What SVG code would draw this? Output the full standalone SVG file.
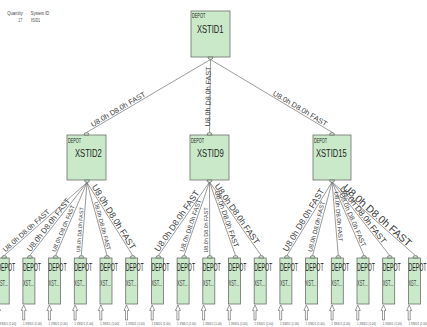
<svg xmlns="http://www.w3.org/2000/svg" width="427" height="327" viewBox="0 0 427 327">
<style>
.bg{fill:#ffffff}
.box{fill:#c9e9c9;stroke:#6e6e6e;stroke-width:0.8}
.edge{stroke:#707070;stroke-width:0.7;fill:none}
.arrow{fill:#ffffff;stroke:#555555;stroke-width:0.6}
text{font-family:"Liberation Sans",Arial,sans-serif}
.hdr{font-size:5.5px;fill:#444444}
.kind{fill:#222222}
.name{fill:#222222}
.xst{font-size:8.4px;fill:#444444}
.src{font-size:3.6px;fill:#555555}
.lbl{fill:#3a3a3a}
</style>
<rect class="bg" x="0" y="0" width="427" height="327"/>

<!-- summary table -->
<g id="summary">
<text class="hdr" x="7.3" y="15" textLength="15.4" lengthAdjust="spacingAndGlyphs">Quantity</text>
<text class="hdr" x="30.7" y="15" textLength="18.6" lengthAdjust="spacingAndGlyphs">System ID</text>
<text class="hdr" x="18.3" y="21.5" textLength="3.7" lengthAdjust="spacingAndGlyphs">17</text>
<text class="hdr" x="30.7" y="21.5" textLength="9.3" lengthAdjust="spacingAndGlyphs">XSID1</text>
</g>

<!-- connectors -->
<g id="connectors">
<path class="edge" d="M210.5 59.5L86.5 132.5M210.5 59.5L209.5 132.5M210.5 59.5L332.5 132.5"/>
<path class="edge" d="M87 182.5L4.2 255.5M87 182.5L29.9 255.5M87 182.5L55.6 255.5M87 182.5L81.3 255.5M87 182.5L107 255.5M87 182.5L132.7 255.5"/>
<path class="edge" d="M209.5 182L158.4 255.5M209.5 182L184.1 255.5M209.5 182L209.8 255.5M209.5 182L235.5 255.5M209.5 182L261.2 255.5"/>
<path class="edge" d="M332 182L286.9 255.5M332 182L312.6 255.5M332 182L338.3 255.5M332 182L364 255.5M332 182L389.7 255.5M332 182L415.4 255.5"/>
<g class="lbl">
<text transform="translate(86.5,132.5) rotate(-30.5)" x="8" y="-1.5" font-size="7.3" textLength="62" lengthAdjust="spacingAndGlyphs">U8.0h D8.0h FAST</text>
<text transform="translate(209.5,132.5) rotate(-89.2)" x="6" y="0.5" font-size="7.1" textLength="60" lengthAdjust="spacingAndGlyphs">U8.0h D8.0h FAST</text>
<text transform="translate(210.5,59.5) rotate(30.9)" x="71" y="-1.5" font-size="7.3" textLength="62" lengthAdjust="spacingAndGlyphs">U8.0h D8.0h FAST</text>

<text transform="translate(4.2,255.5) rotate(-41.6)" x="3" y="-1.5" font-size="7.1" textLength="60" lengthAdjust="spacingAndGlyphs">U8.0h D8.0h FAST</text>
<text transform="translate(29.9,255.5) rotate(-52.2)" x="3" y="-1.5" font-size="7.7" textLength="65" lengthAdjust="spacingAndGlyphs">U8.0h D8.0h FAST</text>
<text transform="translate(55.6,255.5) rotate(-66.9)" x="3" y="-1.5" font-size="5.9" textLength="50" lengthAdjust="spacingAndGlyphs">U8.0h D8.0h FAST</text>
<text transform="translate(81.3,255.5) rotate(-85.6)" x="3" y="-1.5" font-size="5.3" textLength="45" lengthAdjust="spacingAndGlyphs">U8.0h D8.0h FAST</text>
<text transform="translate(87,182.5) rotate(74.8)" x="21" y="-1.5" font-size="5.9" textLength="50" lengthAdjust="spacingAndGlyphs">U8.0h D8.0h FAST</text>
<text transform="translate(87,182.5) rotate(58.1)" x="6" y="-1.5" font-size="8.9" textLength="75" lengthAdjust="spacingAndGlyphs">U8.0h D8.0h FAST</text>

<text transform="translate(158.4,255.5) rotate(-55.4)" x="3" y="-1.5" font-size="8.5" textLength="72" lengthAdjust="spacingAndGlyphs">U8.0h D8.0h FAST</text>
<text transform="translate(184.1,255.5) rotate(-71.1)" x="3" y="-1.5" font-size="6.5" textLength="55" lengthAdjust="spacingAndGlyphs">U8.0h D8.0h FAST</text>
<text transform="translate(209.8,255.5) rotate(-90)" x="3" y="-1.5" font-size="5.3" textLength="45" lengthAdjust="spacingAndGlyphs">U8.0h D8.0h FAST</text>
<text transform="translate(209.5,182) rotate(70.6)" x="10.5" y="-1.5" font-size="7.1" textLength="60" lengthAdjust="spacingAndGlyphs">U8.0h D8.0h FAST</text>
<text transform="translate(209.5,182) rotate(55.1)" x="6" y="-1.5" font-size="8.5" textLength="72" lengthAdjust="spacingAndGlyphs">U8.0h D8.0h FAST</text>

<text transform="translate(286.9,255.5) rotate(-58.6)" x="3" y="-1.5" font-size="8.5" textLength="72" lengthAdjust="spacingAndGlyphs">U8.0h D8.0h FAST</text>
<text transform="translate(312.6,255.5) rotate(-75.3)" x="3" y="-1.5" font-size="6.2" textLength="52" lengthAdjust="spacingAndGlyphs">U8.0h D8.0h FAST</text>
<text transform="translate(332,182) rotate(85.1)" x="10" y="-1.5" font-size="5.9" textLength="50" lengthAdjust="spacingAndGlyphs">U8.0h D8.0h FAST</text>
<text transform="translate(332,182) rotate(66.6)" x="14" y="-1.5" font-size="6.9" textLength="58" lengthAdjust="spacingAndGlyphs">U8.0h D8.0h FAST</text>
<text transform="translate(332,182) rotate(52.1)" x="10" y="-1.5" font-size="8.3" textLength="70" lengthAdjust="spacingAndGlyphs">U8.0h D8.0h FAST</text>
<text transform="translate(332,182) rotate(41.6)" x="12" y="-1.5" font-size="10.4" textLength="88" lengthAdjust="spacingAndGlyphs">U8.0h D8.0h FAST</text>
</g>
</g>

<!-- root depot -->
<g id="node-XSTID1">
<rect class="box" x="191" y="11" width="39" height="46"/>
<path class="box" d="M208 57a2.5 2.5 0 0 0 5 0z"/>
<text class="kind" x="192" y="17.5" font-size="7" textLength="13.3" lengthAdjust="spacingAndGlyphs">DEPOT</text>
<text class="name" x="197" y="33.3" font-size="11.5" textLength="26.5" lengthAdjust="spacingAndGlyphs">XSTID1</text>
</g>

<!-- second level depots -->
<g id="node-XSTID2">
<rect class="box" x="67" y="135" width="39" height="45"/>
<path class="box" d="M84 135a2.5 2.5 0 0 1 5 0z"/>
<path class="box" d="M84.5 180a2.5 2.5 0 0 0 5 0z"/>
<text class="kind" x="68" y="142.8" font-size="7" textLength="13" lengthAdjust="spacingAndGlyphs">DEPOT</text>
<text class="name" x="75" y="156.7" font-size="11.5" textLength="26.7" lengthAdjust="spacingAndGlyphs">XSTID2</text>
</g>
<g id="node-XSTID9">
<rect class="box" x="190" y="135" width="39" height="45"/>
<path class="box" d="M207 135a2.5 2.5 0 0 1 5 0z"/>
<path class="box" d="M207 180a2.5 2.5 0 0 0 5 0z"/>
<text class="kind" x="191" y="142.8" font-size="7" textLength="13" lengthAdjust="spacingAndGlyphs">DEPOT</text>
<text class="name" x="197" y="156.7" font-size="11.5" textLength="26.7" lengthAdjust="spacingAndGlyphs">XSTID9</text>
</g>
<g id="node-XSTID15">
<rect class="box" x="313" y="135" width="38" height="45"/>
<path class="box" d="M329.5 135a2.5 2.5 0 0 1 5 0z"/>
<path class="box" d="M329.5 180a2.5 2.5 0 0 0 5 0z"/>
<text class="kind" x="314" y="142.8" font-size="7" textLength="13" lengthAdjust="spacingAndGlyphs">DEPOT</text>
<text class="name" x="316" y="156.7" font-size="11.5" textLength="30.7" lengthAdjust="spacingAndGlyphs">XSTID15</text>
</g>

<!-- leaf depots: box, top port, labels, supply arrow and source note -->
<g id="leaf-1">
<rect class="box" x="-2.8" y="258" width="12" height="46"/>
<path class="box" d="M1.7 258a2.5 2.5 0 0 1 5 0z"/>
<text class="kind" x="-2.8" y="270.7" font-size="10.3" textLength="18" lengthAdjust="spacingAndGlyphs">DEPOT</text>
<text class="xst" x="-2.8" y="286" textLength="10.7" lengthAdjust="spacingAndGlyphs">XST...</text>
<path class="arrow" d="M-2 305L0.5 310.5H-1V320H-3V310.5H-4.5Z"/>
<text class="src" x="-2.8" y="324.5" textLength="19" lengthAdjust="spacingAndGlyphs">1 XSID1 (1.00)</text>
</g>
<g id="leaf-2">
<rect class="box" x="22.9" y="258" width="12" height="46"/>
<path class="box" d="M27.4 258a2.5 2.5 0 0 1 5 0z"/>
<text class="kind" x="22.9" y="270.7" font-size="10.3" textLength="18" lengthAdjust="spacingAndGlyphs">DEPOT</text>
<text class="xst" x="22.9" y="286" textLength="10.7" lengthAdjust="spacingAndGlyphs">XST...</text>
<path class="arrow" d="M23.7 305L26.2 310.5H24.7V320H22.7V310.5H21.2Z"/>
<text class="src" x="22.9" y="324.5" textLength="19" lengthAdjust="spacingAndGlyphs">1 XSID1 (1.00)</text>
</g>
<g id="leaf-3">
<rect class="box" x="48.6" y="258" width="12" height="46"/>
<path class="box" d="M53.1 258a2.5 2.5 0 0 1 5 0z"/>
<text class="kind" x="48.6" y="270.7" font-size="10.3" textLength="18" lengthAdjust="spacingAndGlyphs">DEPOT</text>
<text class="xst" x="48.6" y="286" textLength="10.7" lengthAdjust="spacingAndGlyphs">XST...</text>
<path class="arrow" d="M49.4 305L51.9 310.5H50.4V320H48.4V310.5H46.9Z"/>
<text class="src" x="48.6" y="324.5" textLength="19" lengthAdjust="spacingAndGlyphs">1 XSID1 (1.00)</text>
</g>
<g id="leaf-4">
<rect class="box" x="74.3" y="258" width="12" height="46"/>
<path class="box" d="M78.8 258a2.5 2.5 0 0 1 5 0z"/>
<text class="kind" x="74.3" y="270.7" font-size="10.3" textLength="18" lengthAdjust="spacingAndGlyphs">DEPOT</text>
<text class="xst" x="74.3" y="286" textLength="10.7" lengthAdjust="spacingAndGlyphs">XST...</text>
<path class="arrow" d="M75.1 305L77.6 310.5H76.1V320H74.1V310.5H72.6Z"/>
<text class="src" x="74.3" y="324.5" textLength="19" lengthAdjust="spacingAndGlyphs">1 XSID1 (1.00)</text>
</g>
<g id="leaf-5">
<rect class="box" x="100" y="258" width="12" height="46"/>
<path class="box" d="M104.5 258a2.5 2.5 0 0 1 5 0z"/>
<text class="kind" x="100" y="270.7" font-size="10.3" textLength="18" lengthAdjust="spacingAndGlyphs">DEPOT</text>
<text class="xst" x="100" y="286" textLength="10.7" lengthAdjust="spacingAndGlyphs">XST...</text>
<path class="arrow" d="M100.8 305L103.3 310.5H101.8V320H99.8V310.5H98.3Z"/>
<text class="src" x="100" y="324.5" textLength="19" lengthAdjust="spacingAndGlyphs">1 XSID1 (1.00)</text>
</g>
<g id="leaf-6">
<rect class="box" x="125.7" y="258" width="12" height="46"/>
<path class="box" d="M130.2 258a2.5 2.5 0 0 1 5 0z"/>
<text class="kind" x="125.7" y="270.7" font-size="10.3" textLength="18" lengthAdjust="spacingAndGlyphs">DEPOT</text>
<text class="xst" x="125.7" y="286" textLength="10.7" lengthAdjust="spacingAndGlyphs">XST...</text>
<path class="arrow" d="M126.5 305L129 310.5H127.5V320H125.5V310.5H124Z"/>
<text class="src" x="125.7" y="324.5" textLength="19" lengthAdjust="spacingAndGlyphs">1 XSID1 (1.00)</text>
</g>
<g id="leaf-7">
<rect class="box" x="151.4" y="258" width="12" height="46"/>
<path class="box" d="M155.9 258a2.5 2.5 0 0 1 5 0z"/>
<text class="kind" x="151.4" y="270.7" font-size="10.3" textLength="18" lengthAdjust="spacingAndGlyphs">DEPOT</text>
<text class="xst" x="151.4" y="286" textLength="10.7" lengthAdjust="spacingAndGlyphs">XST...</text>
<path class="arrow" d="M152.2 305L154.7 310.5H153.2V320H151.2V310.5H149.7Z"/>
<text class="src" x="151.4" y="324.5" textLength="19" lengthAdjust="spacingAndGlyphs">1 XSID1 (1.00)</text>
</g>
<g id="leaf-8">
<rect class="box" x="177.1" y="258" width="12" height="46"/>
<path class="box" d="M181.6 258a2.5 2.5 0 0 1 5 0z"/>
<text class="kind" x="177.1" y="270.7" font-size="10.3" textLength="18" lengthAdjust="spacingAndGlyphs">DEPOT</text>
<text class="xst" x="177.1" y="286" textLength="10.7" lengthAdjust="spacingAndGlyphs">XST...</text>
<path class="arrow" d="M177.9 305L180.4 310.5H178.9V320H176.9V310.5H175.4Z"/>
<text class="src" x="177.1" y="324.5" textLength="19" lengthAdjust="spacingAndGlyphs">1 XSID1 (1.00)</text>
</g>
<g id="leaf-9">
<rect class="box" x="202.8" y="258" width="12" height="46"/>
<path class="box" d="M207.3 258a2.5 2.5 0 0 1 5 0z"/>
<text class="kind" x="202.8" y="270.7" font-size="10.3" textLength="18" lengthAdjust="spacingAndGlyphs">DEPOT</text>
<text class="xst" x="202.8" y="286" textLength="10.7" lengthAdjust="spacingAndGlyphs">XST...</text>
<path class="arrow" d="M203.6 305L206.1 310.5H204.6V320H202.6V310.5H201.1Z"/>
<text class="src" x="202.8" y="324.5" textLength="19" lengthAdjust="spacingAndGlyphs">1 XSID1 (1.00)</text>
</g>
<g id="leaf-10">
<rect class="box" x="228.5" y="258" width="12" height="46"/>
<path class="box" d="M233 258a2.5 2.5 0 0 1 5 0z"/>
<text class="kind" x="228.5" y="270.7" font-size="10.3" textLength="18" lengthAdjust="spacingAndGlyphs">DEPOT</text>
<text class="xst" x="228.5" y="286" textLength="10.7" lengthAdjust="spacingAndGlyphs">XST...</text>
<path class="arrow" d="M229.3 305L231.8 310.5H230.3V320H228.3V310.5H226.8Z"/>
<text class="src" x="228.5" y="324.5" textLength="19" lengthAdjust="spacingAndGlyphs">1 XSID1 (1.00)</text>
</g>
<g id="leaf-11">
<rect class="box" x="254.2" y="258" width="12" height="46"/>
<path class="box" d="M258.7 258a2.5 2.5 0 0 1 5 0z"/>
<text class="kind" x="254.2" y="270.7" font-size="10.3" textLength="18" lengthAdjust="spacingAndGlyphs">DEPOT</text>
<text class="xst" x="254.2" y="286" textLength="10.7" lengthAdjust="spacingAndGlyphs">XST...</text>
<path class="arrow" d="M255 305L257.5 310.5H256V320H254V310.5H252.5Z"/>
<text class="src" x="254.2" y="324.5" textLength="19" lengthAdjust="spacingAndGlyphs">1 XSID1 (1.00)</text>
</g>
<g id="leaf-12">
<rect class="box" x="279.9" y="258" width="12" height="46"/>
<path class="box" d="M284.4 258a2.5 2.5 0 0 1 5 0z"/>
<text class="kind" x="279.9" y="270.7" font-size="10.3" textLength="18" lengthAdjust="spacingAndGlyphs">DEPOT</text>
<text class="xst" x="279.9" y="286" textLength="10.7" lengthAdjust="spacingAndGlyphs">XST...</text>
<path class="arrow" d="M280.7 305L283.2 310.5H281.7V320H279.7V310.5H278.2Z"/>
<text class="src" x="279.9" y="324.5" textLength="19" lengthAdjust="spacingAndGlyphs">1 XSID1 (1.00)</text>
</g>
<g id="leaf-13">
<rect class="box" x="305.6" y="258" width="12" height="46"/>
<path class="box" d="M310.1 258a2.5 2.5 0 0 1 5 0z"/>
<text class="kind" x="305.6" y="270.7" font-size="10.3" textLength="18" lengthAdjust="spacingAndGlyphs">DEPOT</text>
<text class="xst" x="305.6" y="286" textLength="10.7" lengthAdjust="spacingAndGlyphs">XST...</text>
<path class="arrow" d="M306.4 305L308.9 310.5H307.4V320H305.4V310.5H303.9Z"/>
<text class="src" x="305.6" y="324.5" textLength="19" lengthAdjust="spacingAndGlyphs">1 XSID1 (1.00)</text>
</g>
<g id="leaf-14">
<rect class="box" x="331.3" y="258" width="12" height="46"/>
<path class="box" d="M335.8 258a2.5 2.5 0 0 1 5 0z"/>
<text class="kind" x="331.3" y="270.7" font-size="10.3" textLength="18" lengthAdjust="spacingAndGlyphs">DEPOT</text>
<text class="xst" x="331.3" y="286" textLength="10.7" lengthAdjust="spacingAndGlyphs">XST...</text>
<path class="arrow" d="M332.1 305L334.6 310.5H333.1V320H331.1V310.5H329.6Z"/>
<text class="src" x="331.3" y="324.5" textLength="19" lengthAdjust="spacingAndGlyphs">1 XSID1 (1.00)</text>
</g>
<g id="leaf-15">
<rect class="box" x="357" y="258" width="12" height="46"/>
<path class="box" d="M361.5 258a2.5 2.5 0 0 1 5 0z"/>
<text class="kind" x="357" y="270.7" font-size="10.3" textLength="18" lengthAdjust="spacingAndGlyphs">DEPOT</text>
<text class="xst" x="357" y="286" textLength="10.7" lengthAdjust="spacingAndGlyphs">XST...</text>
<path class="arrow" d="M357.8 305L360.3 310.5H358.8V320H356.8V310.5H355.3Z"/>
<text class="src" x="357" y="324.5" textLength="19" lengthAdjust="spacingAndGlyphs">1 XSID1 (1.00)</text>
</g>
<g id="leaf-16">
<rect class="box" x="382.7" y="258" width="12" height="46"/>
<path class="box" d="M387.2 258a2.5 2.5 0 0 1 5 0z"/>
<text class="kind" x="382.7" y="270.7" font-size="10.3" textLength="18" lengthAdjust="spacingAndGlyphs">DEPOT</text>
<text class="xst" x="382.7" y="286" textLength="10.7" lengthAdjust="spacingAndGlyphs">XST...</text>
<path class="arrow" d="M383.5 305L386 310.5H384.5V320H382.5V310.5H381Z"/>
<text class="src" x="382.7" y="324.5" textLength="19" lengthAdjust="spacingAndGlyphs">1 XSID1 (1.00)</text>
</g>
<g id="leaf-17">
<rect class="box" x="408.4" y="258" width="12" height="46"/>
<path class="box" d="M412.9 258a2.5 2.5 0 0 1 5 0z"/>
<text class="kind" x="408.4" y="270.7" font-size="10.3" textLength="18" lengthAdjust="spacingAndGlyphs">DEPOT</text>
<text class="xst" x="408.4" y="286" textLength="10.7" lengthAdjust="spacingAndGlyphs">XST...</text>
<path class="arrow" d="M409.2 305L411.7 310.5H410.2V320H408.2V310.5H406.7Z"/>
<text class="src" x="408.4" y="324.5" textLength="19" lengthAdjust="spacingAndGlyphs">1 XSID1 (1.00)</text>
</g>
</svg>
